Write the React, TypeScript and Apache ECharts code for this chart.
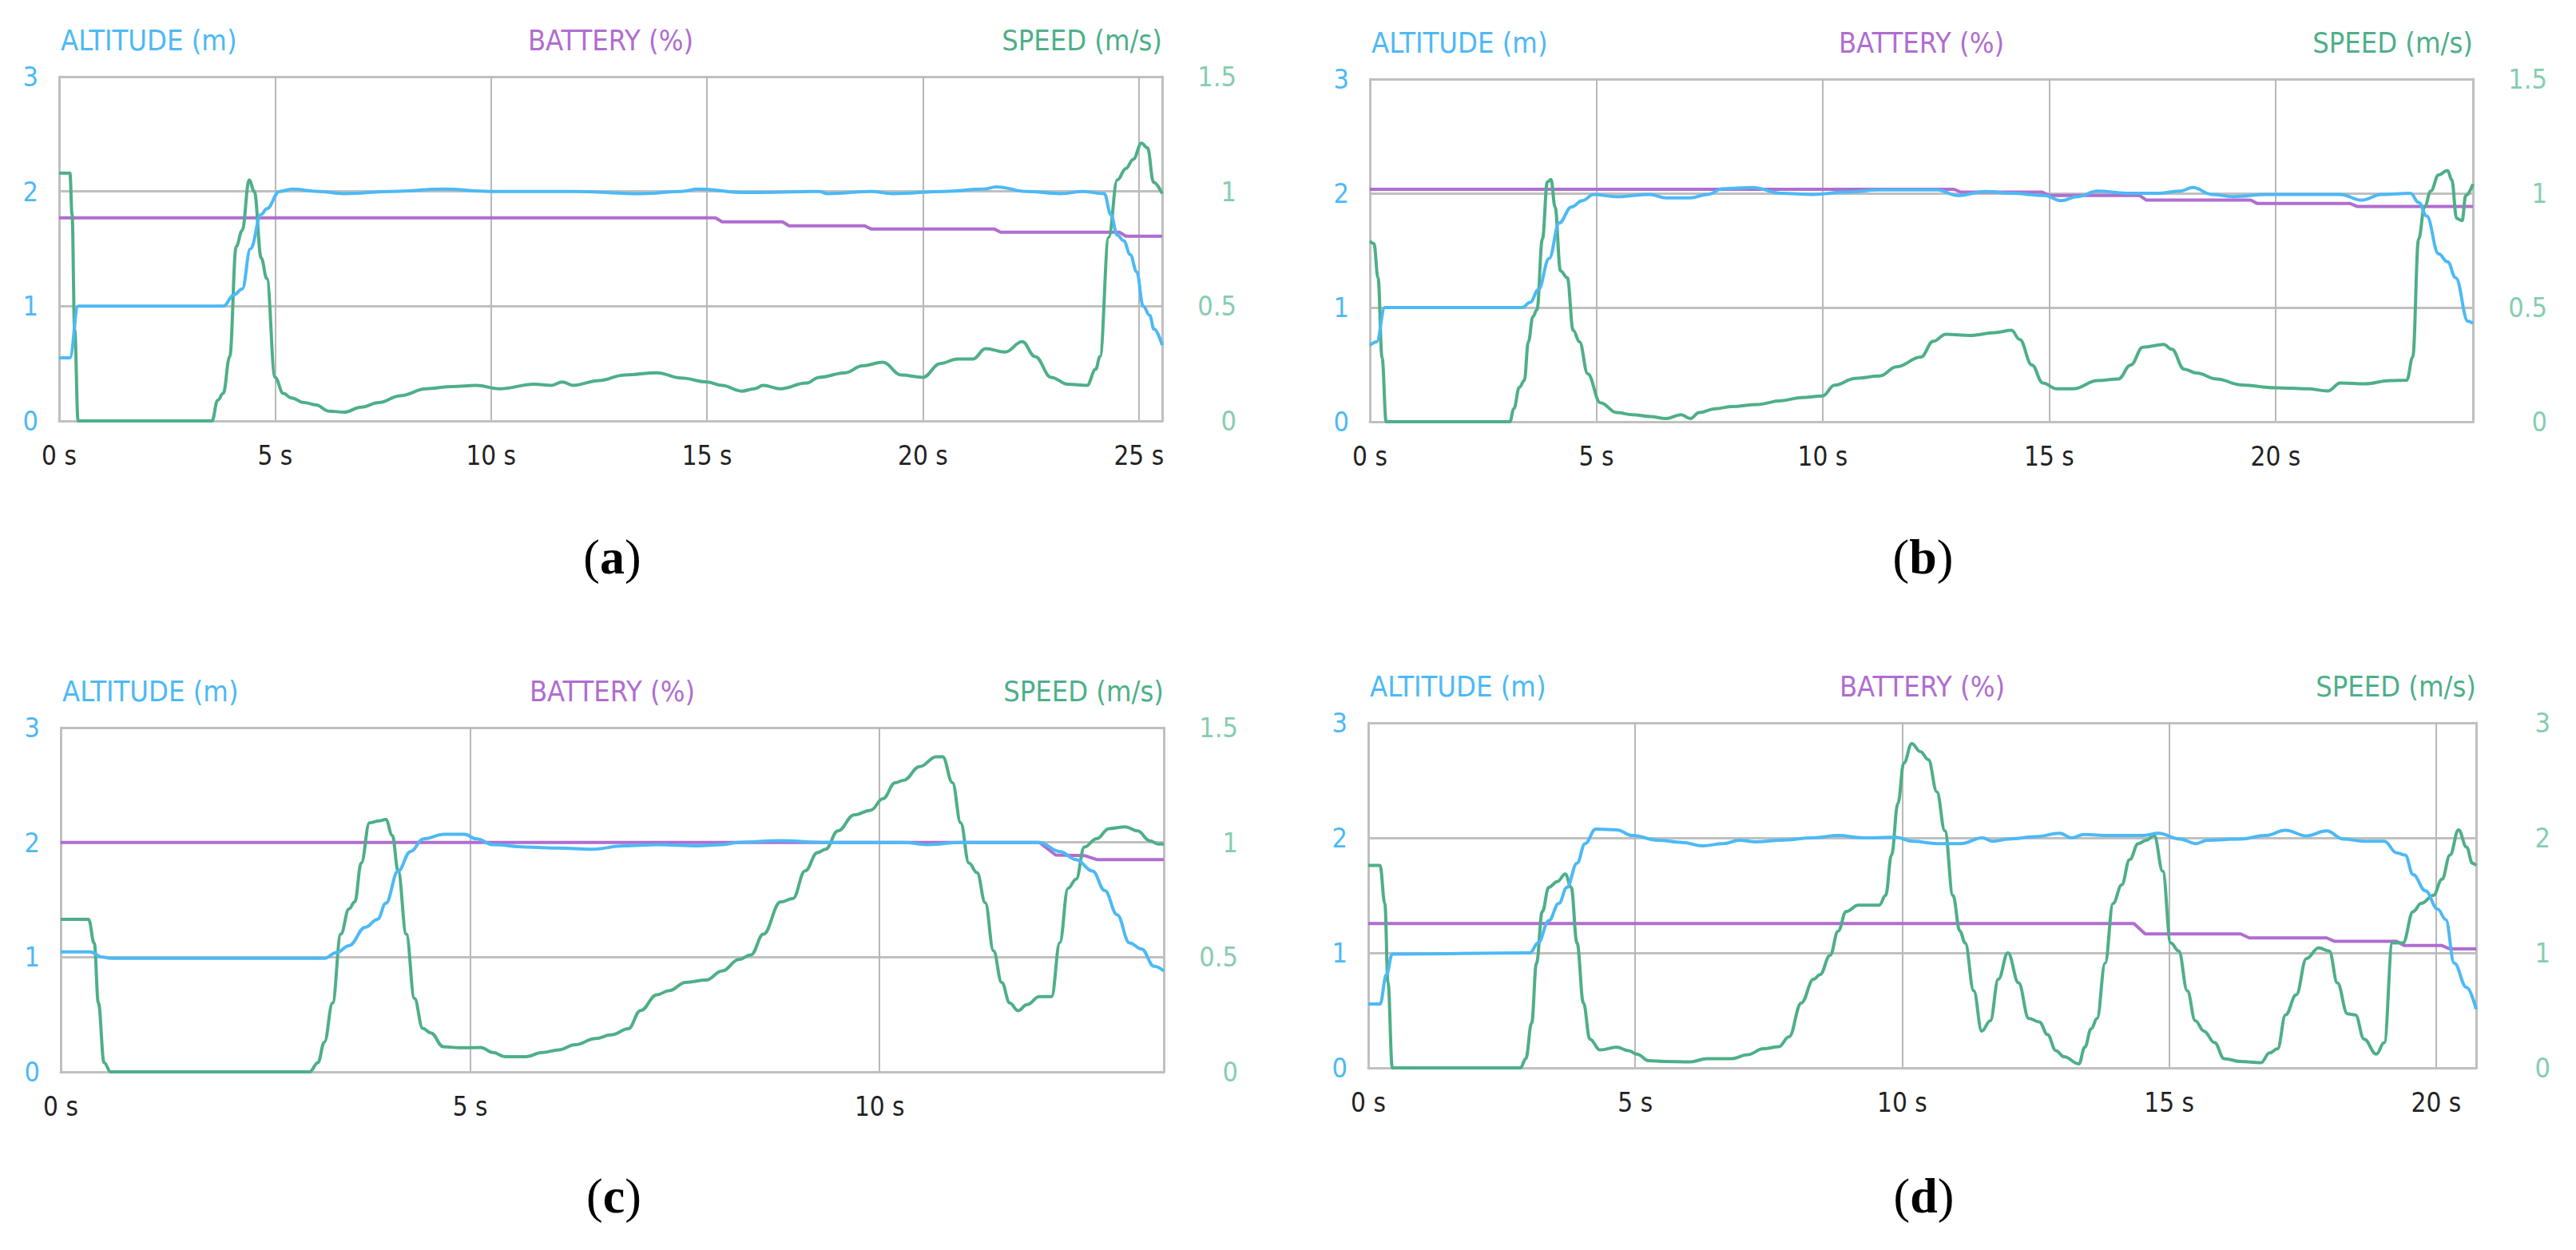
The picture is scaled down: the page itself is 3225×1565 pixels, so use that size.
import React, { useEffect, useRef } from "react";
import * as echarts from "echarts";

// ---------- data (time in s, value) ----------
const endTimes = [25.54, 24.36, 13.47, 20.75];
const speedMax = [1.5, 1.5, 1.5, 3];
const captions = ["a", "b", "c", "d"];

const altitudeA: number[][] = [[0,0.55],[0.25,0.55],[0.44,1.0],[3.8,1.0],[4.05,1.1],[4.24,1.15],[4.43,1.5],[4.68,1.8],[4.81,1.85],[5.1,2.0],[5.4,2.02],[6.0,2.0],[6.6,1.98],[7.7,2.0],[8.9,2.02],[10,2.0],[11.9,2.0],[13.5,1.98],[14.4,2.0],[14.8,2.02],[15.9,1.99],[17.6,2.0],[17.8,1.98],[18.8,2.0],[19.3,1.98],[20.5,2.0],[21.4,2.02],[21.7,2.04],[22.4,2.0],[23.2,1.98],[23.7,2.0],[24.2,1.98],[24.35,1.8],[24.5,1.62],[24.65,1.57],[24.8,1.45],[24.95,1.3],[25.1,1.0],[25.25,0.92],[25.35,0.8],[25.54,0.66]];
const speedA: number[][] = [[0,1.08],[0.25,1.08],[0.3,0.9],[0.36,0.4],[0.44,0],[3.54,0],[3.67,0.09],[3.8,0.12],[3.95,0.28],[4.1,0.76],[4.24,0.83],[4.4,1.05],[4.52,1.0],[4.68,0.71],[4.81,0.62],[5.0,0.19],[5.19,0.12],[5.38,0.1],[5.67,0.08],[5.95,0.07],[6.24,0.043],[6.6,0.038],[7.0,0.06],[7.4,0.08],[7.9,0.11],[8.5,0.14],[9.1,0.15],[9.66,0.155],[10.2,0.14],[11.0,0.16],[11.4,0.155],[11.65,0.17],[11.9,0.155],[12.5,0.176],[13.1,0.2],[13.84,0.21],[14.4,0.187],[15.0,0.17],[15.35,0.155],[15.8,0.13],[16.1,0.14],[16.3,0.155],[16.7,0.14],[17.3,0.165],[17.6,0.19],[18.2,0.21],[18.6,0.24],[19.07,0.256],[19.5,0.2],[20.0,0.19],[20.4,0.25],[20.8,0.27],[21.16,0.27],[21.45,0.315],[21.9,0.3],[22.3,0.345],[22.6,0.28],[22.97,0.19],[23.35,0.16],[23.8,0.155],[24.0,0.225],[24.1,0.28],[24.3,0.8],[24.5,1.05],[24.7,1.1],[24.87,1.14],[25.06,1.21],[25.2,1.19],[25.34,1.04],[25.54,0.99]];
const batteryA: number[][] = [[0,1.77],[15.2,1.77],[15.35,1.735],[16.75,1.735],[16.9,1.7],[18.65,1.7],[18.8,1.673],[21.65,1.673],[21.8,1.645],[24.55,1.645],[24.7,1.61],[25.54,1.61]];

const altitudeB: number[][] = [[0,0.67],[0.15,0.7],[0.33,1.0],[3.36,1.0],[3.54,1.045],[3.72,1.155],[3.96,1.43],[4.18,1.74],[4.45,1.88],[4.69,1.935],[4.94,1.99],[5.45,1.97],[6.18,1.99],[6.54,1.96],[7.08,1.96],[7.45,1.99],[7.8,2.04],[8.45,2.05],[9.08,2.0],[9.8,1.99],[10.5,2.01],[11.26,2.03],[12.53,2.03],[12.98,1.98],[13.6,2.015],[14.17,2.0],[14.9,1.98],[15.26,1.935],[15.62,1.97],[16.07,2.02],[16.7,2.0],[17.44,2.0],[17.9,2.02],[18.17,2.05],[18.6,1.99],[19.07,1.97],[19.8,1.99],[20.7,1.99],[21.43,1.99],[21.9,1.94],[22.34,1.99],[22.98,2.0],[23.16,1.92],[23.34,1.8],[23.6,1.47],[23.8,1.4],[23.98,1.26],[24.25,0.88],[24.36,0.86]];
const speedB: number[][] = [[0,0.79],[0.09,0.78],[0.18,0.63],[0.27,0.28],[0.36,0],[3.09,0],[3.18,0.057],[3.3,0.15],[3.41,0.18],[3.5,0.35],[3.6,0.46],[3.69,0.49],[3.81,0.8],[3.92,1.05],[4.0,1.06],[4.09,0.94],[4.21,0.66],[4.36,0.63],[4.49,0.4],[4.63,0.35],[4.81,0.21],[5.09,0.083],[5.45,0.04],[5.8,0.031],[6.18,0.023],[6.54,0.014],[6.87,0.031],[7.08,0.014],[7.27,0.04],[7.63,0.057],[8.0,0.066],[8.54,0.075],[9.08,0.092],[9.54,0.106],[10.0,0.113],[10.26,0.16],[10.72,0.19],[11.26,0.2],[11.63,0.24],[12.17,0.283],[12.44,0.352],[12.72,0.383],[13.26,0.378],[13.8,0.39],[14.17,0.4],[14.35,0.36],[14.62,0.248],[14.86,0.17],[15.17,0.144],[15.53,0.144],[16.07,0.18],[16.53,0.187],[16.8,0.248],[17.07,0.326],[17.53,0.338],[17.71,0.317],[17.98,0.23],[18.26,0.213],[18.7,0.187],[19.25,0.161],[19.98,0.149],[20.7,0.144],[21.16,0.135],[21.43,0.17],[21.98,0.166],[22.53,0.18],[22.9,0.182],[23.03,0.283],[23.16,0.8],[23.29,0.94],[23.43,1.01],[23.6,1.08],[23.8,1.1],[23.89,1.06],[24.0,0.89],[24.12,0.88],[24.2,0.99],[24.36,1.04]];
const batteryB: number[][] = [[0,2.035],[12.9,2.035],[13.05,2.01],[14.85,2.01],[15.0,1.98],[17.0,1.98],[17.15,1.94],[19.45,1.94],[19.6,1.91],[21.65,1.91],[21.8,1.885],[24.36,1.885]];

const altitudeC: number[][] = [[0,1.045],[0.36,1.045],[0.51,1.0],[0.61,0.99],[3.22,0.99],[3.37,1.04],[3.52,1.1],[3.72,1.26],[3.87,1.33],[3.97,1.47],[4.12,1.75],[4.27,1.92],[4.43,2.03],[4.68,2.07],[4.93,2.07],[5.08,2.03],[5.28,1.98],[5.68,1.96],[6.08,1.95],[6.48,1.94],[6.88,1.97],[7.28,1.98],[7.78,1.97],[8.08,1.98],[8.28,2.0],[8.79,2.015],[9.29,2.0],[9.89,2.0],[10.29,2.0],[10.59,1.98],[10.99,2.0],[11.6,2.0],[11.95,2.0],[12.2,1.92],[12.4,1.85],[12.6,1.75],[12.75,1.58],[12.9,1.37],[13.05,1.125],[13.2,1.07],[13.35,0.92],[13.47,0.88]];
const speedC: number[][] = [[0,0.665],[0.34,0.665],[0.41,0.56],[0.46,0.3],[0.53,0.04],[0.61,0],[3.04,0],[3.14,0.04],[3.22,0.13],[3.32,0.3],[3.42,0.6],[3.52,0.71],[3.59,0.74],[3.67,0.91],[3.77,1.085],[3.89,1.094],[3.97,1.1],[4.05,1.03],[4.12,0.876],[4.22,0.6],[4.32,0.32],[4.42,0.19],[4.52,0.17],[4.67,0.11],[4.87,0.105],[5.13,0.106],[5.28,0.084],[5.43,0.066],[5.68,0.066],[5.88,0.084],[6.08,0.096],[6.28,0.118],[6.53,0.145],[6.73,0.162],[6.93,0.188],[7.08,0.267],[7.28,0.336],[7.43,0.354],[7.63,0.39],[7.88,0.4],[8.08,0.44],[8.28,0.49],[8.43,0.51],[8.58,0.6],[8.79,0.74],[8.94,0.755],[9.09,0.876],[9.24,0.955],[9.34,0.97],[9.49,1.05],[9.69,1.12],[9.89,1.14],[10.04,1.19],[10.19,1.26],[10.29,1.27],[10.49,1.33],[10.69,1.373],[10.77,1.373],[10.89,1.26],[10.99,1.085],[11.09,0.91],[11.19,0.868],[11.29,0.737],[11.39,0.528],[11.49,0.39],[11.59,0.3],[11.69,0.267],[11.8,0.293],[11.95,0.328],[12.1,0.328],[12.2,0.563],[12.3,0.8],[12.4,0.84],[12.5,0.98],[12.65,1.016],[12.8,1.06],[13.0,1.068],[13.15,1.05],[13.3,1.007],[13.4,0.993],[13.47,0.993]];
const batteryC: number[][] = [[0,2.0],[11.95,2.0],[12.15,1.89],[12.5,1.885],[12.65,1.85],[13.47,1.85]];

const altitudeD: number[][] = [[0,0.555],[0.22,0.555],[0.34,0.81],[0.45,0.99],[3.03,1.0],[3.18,1.087],[3.38,1.28],[3.57,1.43],[3.72,1.57],[3.91,1.78],[4.06,1.95],[4.26,2.076],[4.65,2.07],[4.95,2.02],[5.42,1.98],[5.88,1.96],[6.26,1.93],[6.65,1.95],[6.95,1.98],[7.26,1.965],[7.72,1.98],[8.34,2.0],[8.8,2.02],[9.26,2.0],[9.88,2.005],[10.2,1.97],[10.65,1.95],[11.1,1.95],[11.5,2.0],[11.7,1.97],[12.0,1.99],[12.5,2.01],[12.95,2.04],[13.18,2.0],[13.4,2.03],[13.88,2.02],[14.5,2.02],[14.8,2.04],[15.2,1.99],[15.5,1.95],[15.72,1.98],[16.34,1.99],[16.8,2.02],[17.18,2.066],[17.57,2.017],[17.95,2.06],[18.26,1.99],[18.65,1.97],[19.03,1.97],[19.26,1.87],[19.42,1.85],[19.57,1.68],[19.8,1.54],[20.03,1.38],[20.18,1.29],[20.34,0.91],[20.57,0.7],[20.75,0.51]];
const speedD: number[][] = [[0,1.76],[0.22,1.76],[0.31,1.43],[0.37,0.74],[0.45,0],[2.85,0],[2.95,0.08],[3.06,0.39],[3.15,0.91],[3.26,1.36],[3.38,1.57],[3.54,1.62],[3.69,1.686],[3.8,1.57],[3.91,1.086],[4.03,0.565],[4.15,0.25],[4.34,0.156],[4.65,0.18],[4.88,0.15],[5.03,0.12],[5.26,0.062],[5.57,0.055],[6.03,0.052],[6.34,0.08],[6.8,0.08],[7.1,0.114],[7.4,0.166],[7.69,0.184],[7.88,0.27],[8.11,0.565],[8.34,0.77],[8.46,0.81],[8.65,0.98],[8.8,1.19],[8.95,1.36],[9.18,1.415],[9.57,1.415],[9.69,1.5],[9.8,1.85],[9.92,2.3],[10.03,2.65],[10.18,2.82],[10.34,2.75],[10.49,2.68],[10.65,2.4],[10.8,2.06],[10.95,1.5],[11.08,1.19],[11.18,1.086],[11.34,0.67],[11.49,0.32],[11.65,0.41],[11.8,0.77],[11.98,1.0],[12.18,0.74],[12.37,0.43],[12.57,0.4],[12.72,0.29],[12.88,0.15],[13.03,0.097],[13.31,0.035],[13.42,0.18],[13.54,0.34],[13.65,0.43],[13.8,0.91],[13.95,1.43],[14.11,1.59],[14.26,1.81],[14.42,1.95],[14.57,1.98],[14.72,2.02],[14.88,1.71],[15.03,1.086],[15.18,1.016],[15.34,0.67],[15.49,0.41],[15.65,0.32],[15.85,0.22],[16.03,0.08],[16.34,0.055],[16.72,0.045],[16.88,0.13],[17.03,0.166],[17.18,0.46],[17.38,0.635],[17.57,0.95],[17.8,1.044],[18.0,1.016],[18.15,0.74],[18.34,0.47],[18.49,0.46],[18.65,0.25],[18.88,0.12],[19.03,0.22],[19.18,1.086],[19.38,1.086],[19.57,1.36],[19.72,1.43],[19.95,1.5],[20.11,1.64],[20.26,1.85],[20.42,2.07],[20.57,1.92],[20.68,1.78],[20.75,1.76]];
const batteryD: number[][] = [[0,1.255],[14.34,1.255],[14.55,1.165],[16.34,1.165],[16.5,1.13],[17.95,1.13],[18.1,1.1],[19.26,1.1],[19.4,1.065],[20.1,1.065],[20.25,1.035],[20.75,1.035]];

const altitudeSets = [altitudeA, altitudeB, altitudeC, altitudeD];
const speedSets = [speedA, speedB, speedC, speedD];
const batterySets = [batteryA, batteryB, batteryC, batteryD];

// ---------- layout / style ----------
const grids = [
  { left: 74, top: 96, width: 1381, height: 431, capY: 697 },
  { left: 1715, top: 99, width: 1381, height: 429, capY: 697 },
  { left: 76, top: 911, width: 1381, height: 431, capY: 1497 },
  { left: 1713, top: 905, width: 1387, height: 432, capY: 1497 },
];
const ALT = "#4db9f5";
const BAT = "#b06dd0";
const SPD = "#4eaf88";
const SPD_LABEL = "#86cdb0";
const HGRID = "#c0c0c0";
const VGRID = "#b8b8b8";
const SANS = "'Liberation Sans Narrow', 'DejaVu Sans Condensed', 'Roboto', sans-serif";
const SERIF = "'Liberation Serif', 'DejaVu Serif', serif";

export default function App() {
  const ref = useRef<HTMLDivElement>(null);
  useEffect(() => {
    if (!ref.current) return;
    const chart = echarts.init(ref.current, null, { renderer: "svg" });
    const xAxis: any[] = [];
    const yAxis: any[] = [];
    const series: any[] = [];
    const graphic: any[] = [];
    grids.forEach((g, i) => {
      xAxis.push({
        type: "value", gridIndex: i, min: 0, max: endTimes[i], interval: 5,
        axisLine: { show: true, lineStyle: { color: HGRID, width: 3 } },
        axisTick: { show: false },
        axisLabel: {
          color: "#222", fontSize: 33, fontFamily: SANS, margin: 27,
          showMaxLabel: false,
          formatter: (v: number) => (Math.abs(v % 5) < 1e-6 ? `${v} s` : ""),
        },
        splitLine: { show: true, lineStyle: { color: VGRID, width: 2 } },
      });
      yAxis.push({
        type: "value", gridIndex: i, position: "left", min: 0, max: 3, interval: 1,
        axisLine: { show: true, lineStyle: { color: HGRID, width: 3 } },
        axisTick: { show: false },
        axisLabel: { color: ALT, fontSize: 34, fontFamily: SANS, margin: 26 },
        splitLine: { show: true, lineStyle: { color: HGRID, width: 3 } },
      });
      yAxis.push({
        type: "value", gridIndex: i, position: "right", min: 0, max: speedMax[i], interval: speedMax[i] / 3,
        axisLine: { show: true, lineStyle: { color: HGRID, width: 3 } },
        axisTick: { show: false },
        axisLabel: { color: SPD_LABEL, fontSize: 34, fontFamily: SANS, margin: 93, align: "right" },
        splitLine: { show: false },
      });
      yAxis.push({ type: "value", gridIndex: i, min: 0, max: 3, show: false });
      const base = i * 3;
      series.push({
        type: "line", name: "altitude", xAxisIndex: i, yAxisIndex: base, data: altitudeSets[i],
        showSymbol: false, smooth: 0.4, smoothMonotone: "x", lineStyle: { color: ALT, width: 4 }, z: 5,
      });
      series.push({
        type: "line", name: "battery", xAxisIndex: i, yAxisIndex: base + 2, data: batterySets[i],
        showSymbol: false, lineStyle: { color: BAT, width: 4 }, z: 3,
      });
      series.push({
        type: "line", name: "speed", xAxisIndex: i, yAxisIndex: base + 1, data: speedSets[i],
        showSymbol: false, smooth: 0.4, smoothMonotone: "x", lineStyle: { color: SPD, width: 4 }, z: 4,
      });
      const ty = g.top - 46;
      graphic.push(
        { type: "text", x: g.left + 2, y: ty, style: { text: "ALTITUDE (m)", fill: ALT, fontSize: 36, fontFamily: SANS, align: "left", verticalAlign: "middle" } },
        { type: "text", x: g.left + g.width / 2, y: ty, style: { text: "BATTERY (%)", fill: BAT, fontSize: 36, fontFamily: SANS, align: "center", verticalAlign: "middle" } },
        { type: "text", x: g.left + g.width, y: ty, style: { text: "SPEED (m/s)", fill: SPD, fontSize: 36, fontFamily: SANS, align: "right", verticalAlign: "middle" } },
        {
          type: "text", x: g.left + g.width / 2 + 2, y: g.capY,
          style: {
            text: `{p|(}{b|${captions[i]}}{p|)}`, align: "center", verticalAlign: "middle",
            rich: {
              p: { fontSize: 62, fontFamily: SERIF, fill: "#000", fontWeight: "normal" },
              b: { fontSize: 62, fontFamily: SERIF, fill: "#000", fontWeight: "bold" },
            },
          },
        }
      );
    });
    chart.setOption({
      animation: false,
      backgroundColor: "#fff",
      grid: grids.map((g) => ({ left: g.left, top: g.top, width: g.width, height: g.height })),
      xAxis, yAxis, series, graphic,
    });
    return () => chart.dispose();
  }, []);
  return <div ref={ref} style={{ position: "fixed", left: 0, top: 0, width: 3225, height: 1565, background: "#fff" }} />;
}
